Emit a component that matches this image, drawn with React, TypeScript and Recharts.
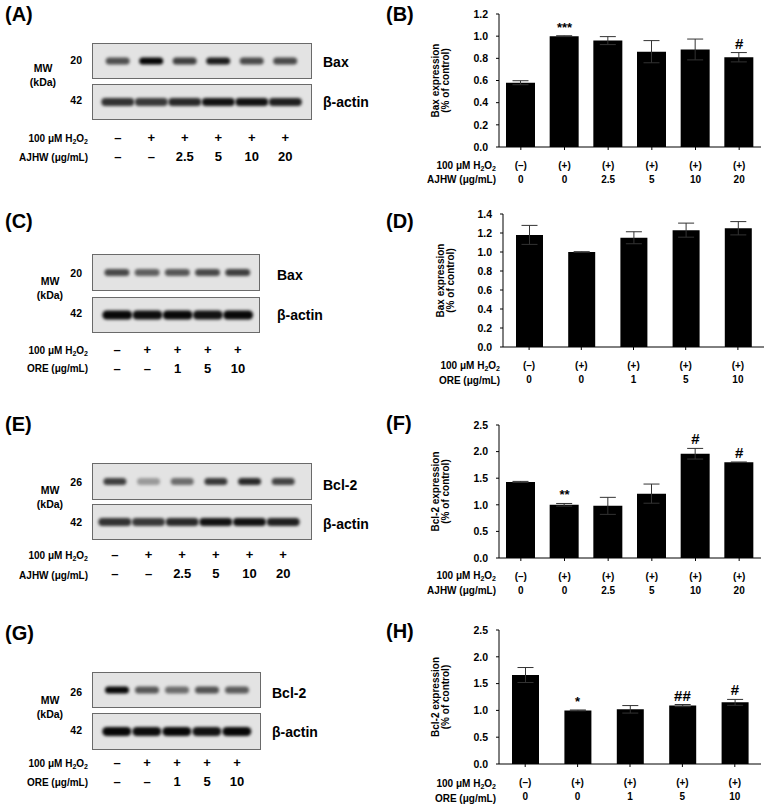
import React from 'react';
import { ComposedChart, BarChart, Bar, Line, XAxis, YAxis, ErrorBar, LabelList } from 'recharts';

const FONT = 'Arial, "Liberation Sans", sans-serif';

// bar-chart category rows
const ajhwH2O2 = ['(–)', '(+)', '(+)', '(+)', '(+)', '(+)'];
const ajhwDose = ['0', '0', '2.5', '5', '10', '20'];
const oreH2O2 = ['(–)', '(+)', '(+)', '(+)', '(+)'];
const oreDose = ['0', '0', '1', '5', '10'];

// (B) Bax, AJHW
const baxAjhw = [0.58, 1.0, 0.96, 0.86, 0.88, 0.81];
const baxAjhwErr = [0.018, 0.004, 0.036, 0.1, 0.094, 0.042];
const baxAjhwSig = ['', '***', '', '', '', '#'];

// (D) Bax, ORE
const baxOre = [1.18, 1.0, 1.15, 1.23, 1.25];
const baxOreErr = [0.1, 0.003, 0.063, 0.074, 0.07];
const baxOreSig = ['', '', '', '', ''];

// (F) Bcl-2, AJHW
const bcl2Ajhw = [1.43, 1.0, 0.98, 1.21, 1.96, 1.8];
const bcl2AjhwErr = [0.01, 0.025, 0.16, 0.18, 0.1, 0.005];
const bcl2AjhwSig = ['', '**', '', '', '#', '#'];

// (H) Bcl-2, ORE
const bcl2Ore = [1.66, 1.0, 1.02, 1.09, 1.15];
const bcl2OreErr = [0.14, 0.008, 0.07, 0.02, 0.055];
const bcl2OreSig = ['', '*', '', '##', '#'];

const ticksBaxAjhw = [0, 0.2, 0.4, 0.6, 0.8, 1.0, 1.2];
const ticksBaxOre = [0, 0.2, 0.4, 0.6, 0.8, 1.0, 1.2, 1.4];
const ticksBcl2 = [0, 0.5, 1.0, 1.5, 2.0, 2.5];

// blot lane labels
const ajhwLaneH2O2 = ['–', '+', '+', '+', '+', '+'];
const ajhwLaneDose = ['–', '–', '2.5', '5', '10', '20'];
const oreLaneH2O2 = ['–', '+', '+', '+', '+'];
const oreLaneDose = ['–', '–', '1', '5', '10'];

// band darkness per lane (0..1)
const baxBandA = [0.65, 0.98, 0.72, 0.88, 0.68, 0.68];
const actinBandA = [0.78, 0.75, 0.82, 0.92, 0.92, 0.86];
const baxBandC = [0.68, 0.58, 0.62, 0.68, 0.72];
const actinBandC = [0.97, 0.94, 0.97, 0.92, 0.97];
const bcl2BandE = [0.72, 0.32, 0.52, 0.75, 0.82, 0.7];
const actinBandE = [0.78, 0.75, 0.82, 0.92, 0.92, 0.86];
const bcl2BandG = [0.97, 0.62, 0.52, 0.64, 0.6];
const actinBandG = [0.97, 0.94, 0.97, 0.92, 0.97];

const makeBand = (id: string, thick: number, cy: number) => (p: any) => (
  <g>
    <defs>
      <filter id={id} x="-20%" y="-150%" width="140%" height="400%">
        <feGaussianBlur stdDeviation="1.4" />
      </filter>
    </defs>
    <rect
      x={p.x}
      y={cy - thick / 2}
      width={p.width}
      height={thick}
      rx={thick / 2}
      fill="#050505"
      fillOpacity={p.payload.level}
      filter={`url(#${id})`}
    />
  </g>
);

function Strip({ levels, left, top, width, height, padL, padR, gap, thick, id }: any) {
  const rows = levels.map((level: number, i: number) => ({ lane: String(i), level }));
  const w = width - 2;
  const h = height - 2;
  return (
    <div
      style={{
        position: 'absolute', left, top, width, height, boxSizing: 'border-box',
        background: '#e3e3e3', border: '1px solid #6a6a6a',
      }}
    >
      <BarChart width={w} height={h} data={rows} margin={{ top: 0, right: padR, bottom: 0, left: padL }} barCategoryGap={gap}>
        <XAxis dataKey="lane" hide />
        <YAxis hide domain={[0, 1]} />
        <Bar dataKey="level" isAnimationActive={false} shape={makeBand(id, thick, h / 2)} />
      </BarChart>
    </div>
  );
}

function LaneLabels({ h2o2, dose, left, top, width, padL, padR }: any) {
  const rows = h2o2.map((h: string, i: number) => ({ lane: String(i), h, d: dose[i], v: 0 }));
  const tick = (p: any) => {
    const r = rows[Number(p.payload.value)];
    return (
      <g fontFamily={FONT} fontWeight="bold" fontSize={13} fill="#000">
        <text x={p.x} y={p.y + 16} textAnchor="middle">{r.h}</text>
        <text x={p.x} y={p.y + 35} textAnchor="middle">{r.d}</text>
      </g>
    );
  };
  return (
    <div style={{ position: 'absolute', left, top, width, height: 44 }}>
      <BarChart width={width} height={44} data={rows} margin={{ top: 0, right: padR, bottom: 0, left: padL }}>
        <XAxis dataKey="lane" axisLine={false} tickLine={false} tickSize={0} tickMargin={0} height={43} interval={0} tick={tick} />
        <YAxis hide domain={[0, 1]} />
        <Bar dataKey="v" isAnimationActive={false} fill="none" />
      </BarChart>
    </div>
  );
}

const SigLabel = (p: any) => {
  if (!p.value) return null;
  const hash = String(p.value).includes('#');
  return (
    <text x={p.x} y={p.y - 4} textAnchor="middle" fontSize={hash ? 15 : 13} fontWeight="bold" fontFamily={FONT} fill="#000">
      {p.value}
    </text>
  );
};

function ExprPanel({ h2o2, dose, mean, err, sig, ticks, max, l, r, t, b, barSize }: any) {
  const rows = mean.map((m: number, i: number) => ({ cat: String(i), mean: m, err: err[i], top: m + err[i], sig: sig[i] }));
  const left = l - 40;
  const top = t - 14;
  const width = r - left + 7;
  const height = b - top + 53;
  const xTick = (p: any) => {
    const i = Number(p.payload.value);
    return (
      <g fontFamily={FONT} fontWeight="bold" fontSize={10} fill="#000">
        <text x={p.x} y={p.y + 18.5} textAnchor="middle">{h2o2[i]}</text>
        <text x={p.x} y={p.y + 33} textAnchor="middle">{dose[i]}</text>
      </g>
    );
  };
  return (
    <div style={{ position: 'absolute', left, top, width, height }}>
      <ComposedChart width={width} height={height} data={rows} margin={{ top: 14, right: 7, bottom: 8, left: 10 }}>
        <XAxis
          dataKey="cat"
          height={45}
          interval={0}
          tick={xTick}
          tickSize={3}
          tickMargin={0}
          axisLine={{ stroke: '#000' }}
          tickLine={{ stroke: '#000' }}
        />
        <YAxis
          width={30}
          domain={[0, max]}
          ticks={ticks}
          interval={0}
          tickFormatter={(v: number) => v.toFixed(1)}
          tickSize={3}
          tickMargin={8}
          tick={{ fontSize: 10.5, fontWeight: 'bold', fill: '#000', fontFamily: FONT }}
          axisLine={{ stroke: '#000' }}
          tickLine={{ stroke: '#000' }}
        />
        <Bar dataKey="mean" fill="#000" barSize={barSize} isAnimationActive={false}>
          <ErrorBar dataKey="err" width={8} stroke="#333" strokeWidth={1} direction="y" />
        </Bar>
        <Line dataKey="top" stroke="none" dot={false} activeDot={false} isAnimationActive={false}>
          <LabelList dataKey="sig" content={SigLabel} />
        </Line>
      </ComposedChart>
    </div>
  );
}

const Txt = ({ x, y, size = 10, anchor = 'start', children }: any) => (
  <text x={x} y={y} fontSize={size} fontWeight="bold" fontFamily={FONT} textAnchor={anchor} fill="#000">
    {children}
  </text>
);

const H2O2 = ({ x, y }: any) => (
  <text x={x} y={y} fontSize={10} fontWeight="bold" fontFamily={FONT} textAnchor="end" fill="#000">
    100 μM H<tspan fontSize={7} dy={2}>2</tspan>
    <tspan dy={-2}>O</tspan>
    <tspan fontSize={7} dy={2}>2</tspan>
  </text>
);

const YLabel = ({ x, y, name }: any) => (
  <g fontSize={10} fontWeight="bold" fontFamily={FONT} fill="#000">
    <text transform={`translate(${x},${y}) rotate(-90)`} textAnchor="middle">{name} expression</text>
    <text transform={`translate(${x + 10},${y}) rotate(-90)`} textAnchor="middle">(% of control)</text>
  </g>
);

const MwLabels = ({ cx, y1, y2, tx, ty, name, ay, tickTarget }: any) => (
  <g>
    <Txt x={82} y={y1} anchor="end" size={10.5}>{tickTarget}</Txt>
    <Txt x={cx} y={y1 + 8} anchor="middle" size={10.5}>MW</Txt>
    <Txt x={cx} y={y1 + 22} anchor="middle" size={10.5}>(kDa)</Txt>
    <Txt x={82} y={y2} anchor="end" size={10.5}>42</Txt>
    <Txt x={tx} y={ty} size={14}>{name}</Txt>
    <Txt x={tx} y={ay} size={14}>β-actin</Txt>
  </g>
);

export default function App() {
  return (
    <div style={{ position: 'absolute', left: 0, top: 0, width: 768, height: 812, background: '#fff', overflow: 'hidden' }}>
      {/* (A) */}
      <Strip levels={baxBandA} left={92} top={43} width={220} height={36} padL={8} padR={9} gap="14%" thick={7} id="bA1" />
      <Strip levels={actinBandA} left={92} top={84} width={220} height={36} padL={8} padR={9} gap="1%" thick={8} id="bA2" />
      <LaneLabels h2o2={ajhwLaneH2O2} dose={ajhwLaneDose} left={92} top={125} width={220} padL={9} padR={10} />

      {/* (C) */}
      <Strip levels={baxBandC} left={92} top={254} width={168} height={37} padL={9} padR={6} gap="8%" thick={7} id="bC1" />
      <Strip levels={actinBandC} left={92} top={297} width={168} height={36} padL={9} padR={6} gap="1%" thick={9} id="bC2" />
      <LaneLabels h2o2={oreLaneH2O2} dose={oreLaneDose} left={92} top={337} width={168} padL={10} padR={7} />

      {/* (E) */}
      <Strip levels={bcl2BandE} left={92} top={463} width={220} height={37} padL={5} padR={11} gap="16%" thick={7} id="bE1" />
      <Strip levels={actinBandE} left={92} top={504} width={220} height={36} padL={5} padR={11} gap="1%" thick={8} id="bE2" />
      <LaneLabels h2o2={ajhwLaneH2O2} dose={ajhwLaneDose} left={92} top={542} width={220} padL={6} padR={12} />

      {/* (G) */}
      <Strip levels={bcl2BandG} left={92} top={672} width={169} height={36} padL={9} padR={8} gap="10%" thick={7} id="bG1" />
      <Strip levels={actinBandG} left={92} top={713} width={169} height={37} padL={9} padR={8} gap="1%" thick={9} id="bG2" />
      <LaneLabels h2o2={oreLaneH2O2} dose={oreLaneDose} left={92} top={750} width={169} padL={10} padR={9} />

      {/* bar panels */}
      <ExprPanel h2o2={ajhwH2O2} dose={ajhwDose} mean={baxAjhw} err={baxAjhwErr} sig={baxAjhwSig}
        ticks={ticksBaxAjhw} max={1.2} l={499} r={761} t={14} b={147} barSize={29} />
      <ExprPanel h2o2={oreH2O2} dose={oreDose} mean={baxOre} err={baxOreErr} sig={baxOreSig}
        ticks={ticksBaxOre} max={1.4} l={503} r={764} t={214} b={347} barSize={27} />
      <ExprPanel h2o2={ajhwH2O2} dose={ajhwDose} mean={bcl2Ajhw} err={bcl2AjhwErr} sig={bcl2AjhwSig}
        ticks={ticksBcl2} max={2.5} l={499} r={761} t={425} b={558} barSize={29} />
      <ExprPanel h2o2={oreH2O2} dose={oreDose} mean={bcl2Ore} err={bcl2OreErr} sig={bcl2OreSig}
        ticks={ticksBcl2} max={2.5} l={499} r={761} t={630} b={764} barSize={27} />

      <svg width={768} height={812} style={{ position: 'absolute', left: 0, top: 0, pointerEvents: 'none' }}>
        <Txt x={5} y={21} size={20}>(A)</Txt>
        <Txt x={386} y={21} size={20}>(B)</Txt>
        <Txt x={5} y={228} size={20}>(C)</Txt>
        <Txt x={386} y={228} size={20}>(D)</Txt>
        <Txt x={5} y={431} size={20}>(E)</Txt>
        <Txt x={386} y={430} size={20}>(F)</Txt>
        <Txt x={5} y={640} size={20}>(G)</Txt>
        <Txt x={386} y={638} size={20}>(H)</Txt>

        <MwLabels cx={43} y1={64} y2={104} tx={323} ty={67} ay={107} name="Bax" tickTarget="20" />
        <H2O2 x={88} y={141.6} />
        <Txt x={88} y={160.6} anchor="end">AJHW (μg/mL)</Txt>

        <MwLabels cx={50} y1={277} y2={317} tx={277} ty={280} ay={320} name="Bax" tickTarget="20" />
        <H2O2 x={88} y={353.6} />
        <Txt x={88} y={371.6} anchor="end">ORE (μg/mL)</Txt>

        <MwLabels cx={50} y1={486} y2={526} tx={323} ty={490} ay={529} name="Bcl-2" tickTarget="26" />
        <H2O2 x={88} y={558.6} />
        <Txt x={88} y={578.6} anchor="end">AJHW (μg/mL)</Txt>

        <MwLabels cx={50} y1={696} y2={734} tx={272} ty={698} ay={737} name="Bcl-2" tickTarget="26" />
        <H2O2 x={88} y={766.6} />
        <Txt x={88} y={785.6} anchor="end">ORE (μg/mL)</Txt>

        <YLabel x={439} y={80.5} name="Bax" />
        <H2O2 x={496} y={168.6} />
        <Txt x={496} y={182.6} anchor="end">AJHW (μg/mL)</Txt>

        <YLabel x={444} y={280.5} name="Bax" />
        <H2O2 x={500} y={368.6} />
        <Txt x={500} y={383.6} anchor="end">ORE (μg/mL)</Txt>

        <YLabel x={439} y={491.5} name="Bcl-2" />
        <H2O2 x={496} y={578.6} />
        <Txt x={496} y={593.6} anchor="end">AJHW (μg/mL)</Txt>

        <YLabel x={439} y={697} name="Bcl-2" />
        <H2O2 x={496} y={786.6} />
        <Txt x={496} y={801.6} anchor="end">ORE (μg/mL)</Txt>
      </svg>
    </div>
  );
}
